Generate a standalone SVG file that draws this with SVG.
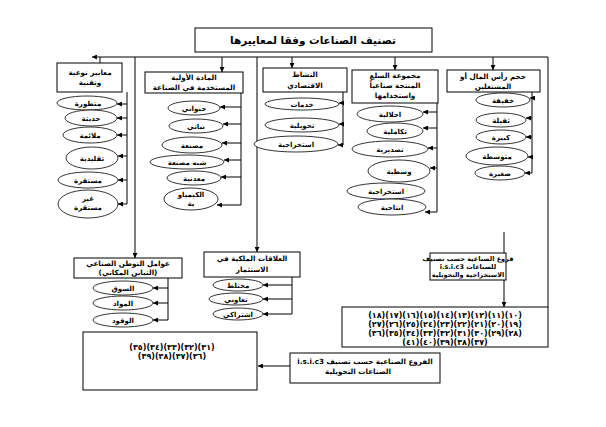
<svg xmlns="http://www.w3.org/2000/svg" width="606" height="427" viewBox="0 0 606 427">
<defs>
<marker id="ah" viewBox="0 0 6 6" refX="6" refY="3" markerWidth="5" markerHeight="5" markerUnits="userSpaceOnUse" orient="auto"><path d="M0,0 L6,3 L0,6 z" fill="#000"/></marker>
</defs>
<style>
.b{fill:#fff;stroke:#000;stroke-width:1}
.e{fill:#fff;stroke:#000;stroke-width:0.8}
.c{fill:none;stroke:#000;stroke-width:1}
.a{fill:none;stroke:#000;stroke-width:1;marker-end:url(#ah)}
text{font-family:"DejaVu Sans",sans-serif;font-weight:bold;fill:#000;text-anchor:middle}
.t{font-size:10.5px}
.l{font-size:7.2px}
.s{font-size:7px}
.s6{font-size:6.5px}
.n{font-size:8px}
</style>
<rect width="606" height="427" fill="#fff"/>
<g id="connectors">
<path class="a" d="M548,57 H92"/>
<path class="c" d="M100,57 V63"/>
<path class="a" d="M222,57 V72"/>
<path class="a" d="M292,57 V68"/>
<path class="a" d="M395,57 V70"/>
<path class="a" d="M493,57 V70"/>
<path class="a" d="M135,57 V258"/>
<path class="a" d="M257,57 V252"/>
<path class="c" d="M548,57 V307"/>
<path class="c" d="M127,92 V204"/>
<path class="a" d="M127,104 H117"/>
<path class="a" d="M127,118 H117"/>
<path class="a" d="M127,135 H117"/>
<path class="a" d="M127,156 H118"/>
<path class="a" d="M127,180 H118"/>
<path class="a" d="M127,204 H118"/>
<path class="c" d="M241,93 V205"/>
<path class="a" d="M241,107 H220"/>
<path class="a" d="M241,124 H223"/>
<path class="a" d="M241,143 H222"/>
<path class="a" d="M241,160 H224"/>
<path class="a" d="M241,177 H221"/>
<path class="a" d="M241,205 H217"/>
<path class="c" d="M343,92 V145"/>
<path class="a" d="M343,103 H339"/>
<path class="a" d="M343,124 H339"/>
<path class="a" d="M343,145 H338"/>
<path class="c" d="M437,103 V212"/>
<path class="a" d="M437,112 H423"/>
<path class="a" d="M437,128 H423"/>
<path class="a" d="M437,148 H428"/>
<path class="a" d="M437,168 H430"/>
<path class="a" d="M437,212 H425"/>
<path class="c" d="M532,92 V173"/>
<path class="a" d="M532,98 H530"/>
<path class="a" d="M532,118 H526"/>
<path class="a" d="M532,137 H526"/>
<path class="a" d="M532,157 H528"/>
<path class="a" d="M532,173 H525"/>
<path class="c" d="M504,232 V253"/>
<path class="a" d="M504,280 V307"/>
<path class="c" d="M168,278 V320"/>
<path class="a" d="M168,288 H153"/>
<path class="a" d="M168,303 H153"/>
<path class="a" d="M168,320 H153"/>
<path class="c" d="M292,277 V314"/>
<path class="a" d="M292,285 H263"/>
<path class="a" d="M292,299 H263"/>
<path class="a" d="M292,314 H263"/>
<path class="a" d="M290,366 H258"/>
</g>
<g id="title"><rect class="b" x="195" y="28" width="237" height="24"/><text class="t" x="313" y="44">تصنيف الصناعات وفقا لمعاييرها</text></g>
<g id="box1"><rect class="b" x="57" y="63" width="65" height="29"/><text class="l" x="90" y="75">معايير نوعية</text><text class="l" x="90" y="85">وتقنية</text></g>
<g id="e1a"><ellipse class="e" cx="87" cy="103" rx="30" ry="7"/><text class="s" x="88" y="105.5">متطورة</text></g>
<g id="e1b"><ellipse class="e" cx="91" cy="118" rx="26" ry="8"/><text class="s" x="91" y="120.5">حديثة</text></g>
<g id="e1c"><ellipse class="e" cx="90" cy="135" rx="27" ry="8"/><text class="s" x="90" y="137.5">ملائمة</text></g>
<g id="e1d"><ellipse class="e" cx="92" cy="158" rx="26" ry="11"/><text class="s" x="92" y="160.5">تقليدية</text></g>
<g id="e1e"><ellipse class="e" cx="88" cy="180" rx="30" ry="8"/><text class="s" x="88" y="182.5">مستقرة</text></g>
<g id="e1f"><ellipse class="e" cx="88" cy="204" rx="30" ry="14"/><text class="s" x="88" y="201">غير</text><text class="s" x="88" y="210">مستقرة</text></g>
<g id="box2"><rect class="b" x="145" y="72" width="98" height="21"/><text class="l" x="194" y="80">المادة الأولية</text><text class="l" x="194" y="90">المستخدمة في الصناعة</text></g>
<g id="e2a"><ellipse class="e" cx="194" cy="108" rx="26" ry="7"/><text class="s" x="194" y="110.5">حيواني</text></g>
<g id="e2b"><ellipse class="e" cx="196" cy="126" rx="27" ry="7"/><text class="s" x="196" y="128.5">نباتي</text></g>
<g id="e2c"><ellipse class="e" cx="192" cy="145" rx="30" ry="8"/><text class="s" x="192" y="147.5">مصنعة</text></g>
<g id="e2d"><ellipse class="e" cx="187" cy="162" rx="37" ry="7"/><text class="s" x="187" y="164.5">شبه مصنعة</text></g>
<g id="e2e"><ellipse class="e" cx="194" cy="178" rx="27" ry="7"/><text class="s" x="194" y="180.5">معدنية</text></g>
<g id="e2f"><ellipse class="e" cx="191" cy="199" rx="27" ry="11"/><text class="s" x="191" y="197">الكيمياو</text><text class="s" x="191" y="206">ية</text></g>
<g id="box3"><rect class="b" x="263" y="68" width="84" height="24"/><text class="l" x="305" y="77">النشاط</text><text class="l" x="305" y="88">الاقتصادي</text></g>
<g id="e3a"><ellipse class="e" cx="302" cy="104" rx="37" ry="6"/><text class="s" x="302" y="106.5">خدمات</text></g>
<g id="e3b"><ellipse class="e" cx="302" cy="125" rx="37" ry="7"/><text class="s" x="302" y="127.5">تحويلية</text></g>
<g id="e3c"><ellipse class="e" cx="296" cy="144" rx="42" ry="8"/><text class="s" x="296" y="146.5">استخراجية</text></g>
<g id="box4"><rect class="b" x="352" y="70" width="86" height="33"/><text class="l" x="395" y="78">مجموعة السلع</text><text class="l" x="395" y="88">المنتجة صناعياً</text><text class="l" x="395" y="98">واستخدامها</text></g>
<g id="e4a"><ellipse class="e" cx="390" cy="114" rx="33" ry="8"/><text class="s" x="390" y="116.5">احلالية</text></g>
<g id="e4b"><ellipse class="e" cx="395" cy="131" rx="28" ry="8"/><text class="s" x="395" y="133.5">تكاملية</text></g>
<g id="e4c"><ellipse class="e" cx="390" cy="149" rx="38" ry="8"/><text class="s" x="390" y="151.5">تصديرية</text></g>
<g id="e4d"><ellipse class="e" cx="399" cy="171" rx="31" ry="11"/><text class="s" x="399" y="173.5">وسطية</text></g>
<g id="e4e"><ellipse class="e" cx="386" cy="191" rx="39" ry="8"/><text class="s" x="386" y="193.5">استخراجية</text></g>
<g id="e4f"><ellipse class="e" cx="392" cy="207" rx="34" ry="8"/><text class="s" x="392" y="209.5">انتاجية</text></g>
<g id="box5"><rect class="b" x="447" y="70" width="93" height="22"/><text class="l" x="493" y="79">حجم رأس المال أو</text><text class="l" x="493" y="89">المشتغلين</text></g>
<g id="e5a"><ellipse class="e" cx="503" cy="100" rx="27" ry="7"/><text class="s" x="503" y="102.5">خفيفة</text></g>
<g id="e5b"><ellipse class="e" cx="501" cy="120" rx="25" ry="7"/><text class="s" x="501" y="122.5">ثقيلة</text></g>
<g id="e5c"><ellipse class="e" cx="501" cy="137" rx="25" ry="7"/><text class="s" x="501" y="139.5">كبيرة</text></g>
<g id="e5d"><ellipse class="e" cx="497" cy="156" rx="31" ry="9"/><text class="s" x="497" y="158.5">متوسطة</text></g>
<g id="e5e"><ellipse class="e" cx="500" cy="173" rx="25" ry="7"/><text class="s" x="500" y="175.5">صغيرة</text></g>
<g id="box6"><rect class="b" x="430" y="253" width="76" height="27"/><text class="s6" x="468" y="261">فروع الصناعية حسب تصنيف</text><text class="s6" x="468" y="269">i.s.i.c3 للصناعات</text><text class="s6" x="468" y="277">الاستخراجية والتحويلية</text></g>
<g id="box7"><rect class="b" x="342" y="307" width="206" height="40"/><text class="n" x="445" y="318">(١٨)(١٧)(١٦)(١٥)(١٤)(١٣)(١٢)(١١)(١٠)</text><text class="n" x="445" y="327">(٢٧)(٢٦)(٢٥)(٢٤)(٢٣)(٢٢)(٢١)(٢٠)(١٩)</text><text class="n" x="445" y="336">(٣٦)(٣٥)(٣٤)(٣٣)(٣٢)(٣١)(٣٠)(٢٩)(٢٨)</text><text class="n" x="445" y="345">(٤١)(٤٠)(٣٩)(٣٨)(٣٧)</text></g>
<g id="box8"><rect class="b" x="74" y="258" width="108" height="20"/><text class="l" x="128" y="266">عوامل التوطن الصناعي</text><text class="l" x="128" y="275">(التباين المكاني)</text></g>
<g id="e8a"><ellipse class="e" cx="123" cy="288" rx="30" ry="7"/><text class="s" x="123" y="290.5">السوق</text></g>
<g id="e8b"><ellipse class="e" cx="123" cy="303" rx="30" ry="7"/><text class="s" x="123" y="305.5">المواد</text></g>
<g id="e8c"><ellipse class="e" cx="123" cy="320" rx="30" ry="7"/><text class="s" x="123" y="322.5">الوقود</text></g>
<g id="box9"><rect class="b" x="204" y="252" width="96" height="25"/><text class="l" x="252" y="261">العلاقات الملكية في</text><text class="l" x="252" y="272">الاستثمار</text></g>
<g id="e9a"><ellipse class="e" cx="238" cy="285" rx="25" ry="6"/><text class="s" x="238" y="287.5">مختلط</text></g>
<g id="e9b"><ellipse class="e" cx="236" cy="299" rx="27" ry="6"/><text class="s" x="236" y="301.5">تعاوني</text></g>
<g id="e9c"><ellipse class="e" cx="238" cy="314" rx="25" ry="6"/><text class="s" x="238" y="316.5">اشتراكي</text></g>
<g id="box10"><rect class="b" x="83" y="332" width="174" height="58"/><text class="n" x="172" y="350">(٣٥)(٣٤)(٣٣)(٣٢)(٣١)</text><text class="n" x="172" y="359">(٣٩)(٣٨)(٣٧)(٣٦)</text></g>
<g id="box11"><rect class="b" x="290" y="353" width="150" height="30"/><text class="l" x="365" y="364">i.s.i.c3  الفروع الصناعية حسب تصنيف</text><text class="l" x="358" y="374">الصناعات التحويلية</text></g>
</svg>
